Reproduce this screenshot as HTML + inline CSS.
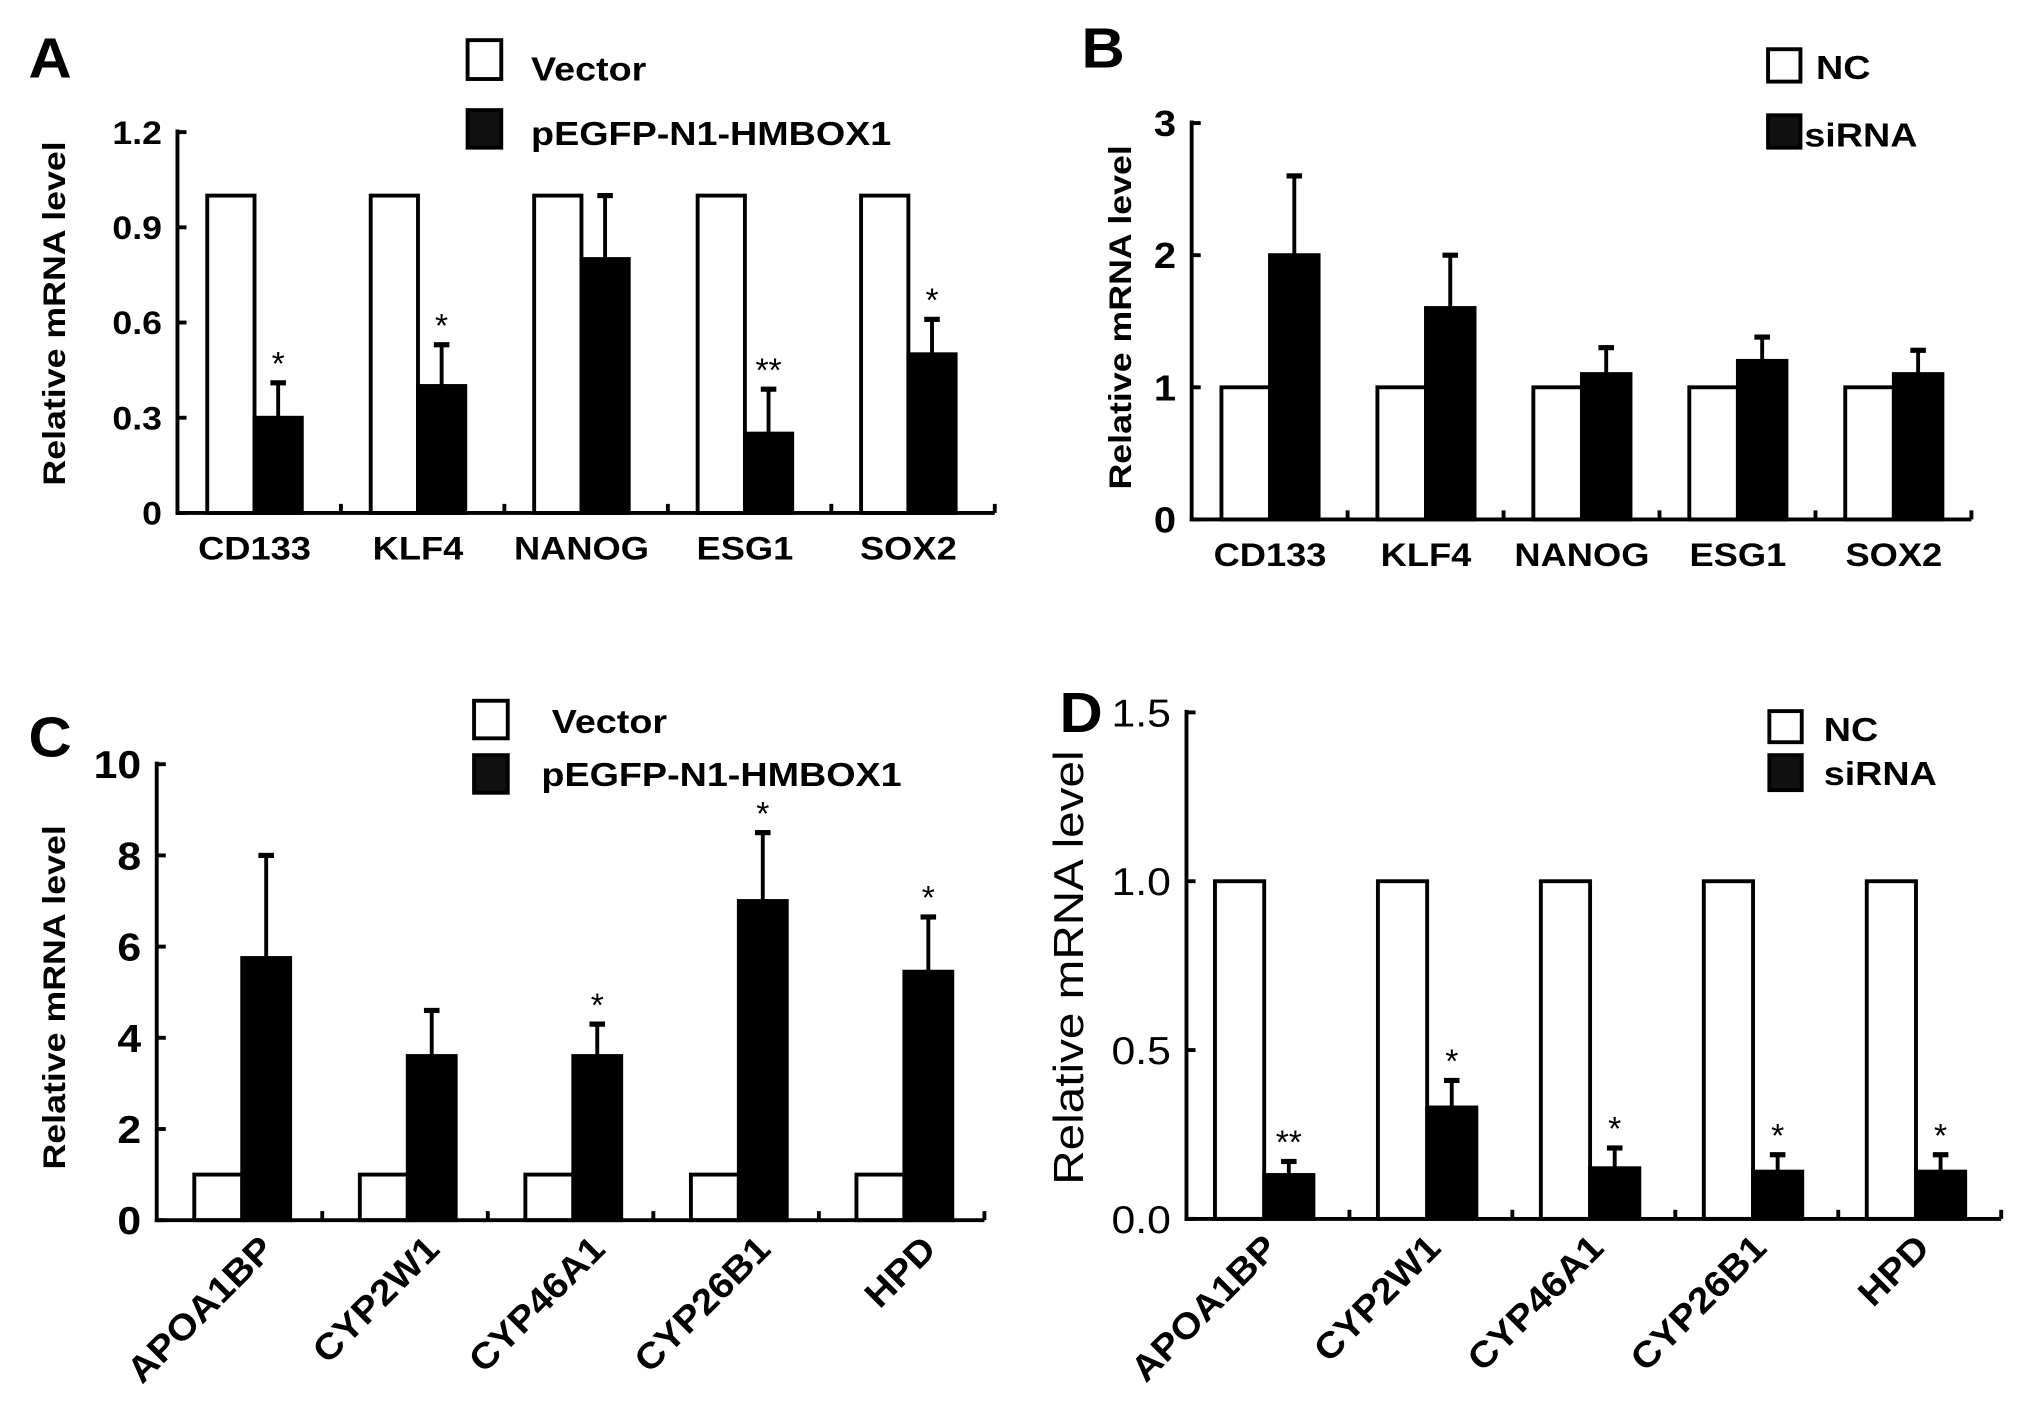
<!DOCTYPE html>
<html><head><meta charset="utf-8"><style>
html,body{margin:0;padding:0;background:#fff;}
svg{display:block;font-family:"Liberation Sans",Arial,sans-serif;}
</style></head><body>
<svg id="fig" width="2031" height="1408" viewBox="0 0 1568 1087" preserveAspectRatio="none" xmlns="http://www.w3.org/2000/svg">
<rect width="1568" height="1087" fill="#fff"/>
<g id="layer"></g>
</svg>
<script>
// Panel A
const catsAB = ["CD133","KLF4","NANOG","ESG1","SOX2"];
const aVector = [1,1,1,1,1];
const aHmbox = [0.30,0.40,0.80,0.25,0.50];
const aErr = [0.41,0.53,1.00,0.39,0.61];
const aStars = ["*","*","","**","*"];
const aTicks = ["0","0.3","0.6","0.9","1.2"];
const aTickVals = [0,0.3,0.6,0.9,1.2];
// Panel B
const bNC = [1,1,1,1,1];
const bSi = [2.0,1.6,1.1,1.2,1.1];
const bErr = [2.6,2.0,1.3,1.38,1.28];
const bTicks = ["0","1","2","3"];
const bTickVals = [0,1,2,3];
// Panel C
const catsCD = ["APOA1BP","CYP2W1","CYP46A1","CYP26B1","HPD"];
const cVector = [1,1,1,1,1];
const cHmbox = [5.75,3.6,3.6,7.0,5.45];
const cErr = [8.0,4.6,4.3,8.5,6.65];
const cStars = ["","","*","*","*"];
const cTicks = ["0","2","4","6","8","10"];
const cTickVals = [0,2,4,6,8,10];
// Panel D
const dNC = [1,1,1,1,1];
const dSi = [0.13,0.33,0.15,0.14,0.14];
const dErr = [0.17,0.41,0.21,0.19,0.19];
const dStars = ["**","*","*","*","*"];
const dTicks = ["0.0","0.5","1.0","1.5"];
const dTickVals = [0,0.5,1.0,1.5];

const NS="http://www.w3.org/2000/svg";
const layer=document.getElementById('layer');
function mk(tag,attrs,parent){const e=document.createElementNS(NS,tag);for(const k in attrs)e.setAttribute(k,attrs[k]);(parent||layer).appendChild(e);return e;}
function txt(s,attrs,parent,stretch){const e=mk('text',attrs,parent);e.textContent=s;
  if(stretch){const L=e.getComputedTextLength();if(L>0){e.setAttribute('textLength',L*stretch);e.setAttribute('lengthAdjust','spacingAndGlyphs');}}
  return e;}

function panel(p){
  const g=mk('g',{});
  
  
  const ymax=p.tickVals[p.tickVals.length-1];
  const ys=v=>p.y0-(v/ymax)*(p.y0-p.ytop);
  const gw=(p.xend-p.x0)/p.cats.length;
  const L=txt(p.letter,{x:p.lx,y:p.ly,'font-size':44,'font-weight':'bold'},g,1.05);
  
  
  p.cats.forEach((c,i)=>{
    const gx=p.x0+i*gw;
    const wx=gx+p.off;
    const w=p.bw;
    const wb=mk('rect',{x:wx,y:ys(p.s1[i]),width:w,height:p.y0-ys(p.s1[i]),fill:'#fff',stroke:'#000','stroke-width':3},g);
    
    
    const bx=wx+w;
    const et=ys(p.err[i]);
    const el=mk('line',{x1:bx+w/2,y1:ys(p.s2[i]),x2:bx+w/2,y2:et,stroke:'#000','stroke-width':3},g);
    
    
    mk('line',{x1:bx+w/2-6,y1:et,x2:bx+w/2+6,y2:et,stroke:'#000','stroke-width':4},g);
    const bb=mk('rect',{x:bx,y:ys(p.s2[i]),width:w,height:p.y0-ys(p.s2[i]),fill:'#000',stroke:'#000','stroke-width':3},g);
    
    
    if(p.stars[i]){
      const st=txt(p.stars[i],{x:bx+w/2,y:et-6,'font-size':26,'text-anchor':'middle'},g);
      
      
    }
    mk('line',{x1:gx+gw,y1:p.y0,x2:gx+gw,y2:p.y0-7,stroke:'#000','stroke-width':3},g);
    let cl;
    if(p.rot){
      const cx=wx+w+p.rotOff, cy=p.y0+24;
      cl=txt(c,{x:cx,y:cy,'font-size':28,'font-weight':'bold','text-anchor':'end',transform:'rotate(-45 '+cx+' '+cy+')'},g,1.08);
    } else {
      cl=txt(c,{x:wx+w,y:p.y0+36,'font-size':p.catSize,'font-weight':'bold','text-anchor':'middle'},g,1.12);
    }
    
    
  });
  const ya=mk('line',{x1:p.x0,y1:p.ytop-2,x2:p.x0,y2:p.y0+1.5,stroke:'#000','stroke-width':3},g);
  
  
  const xa=mk('line',{x1:p.x0-1.5,y1:p.y0,x2:p.xend,y2:p.y0,stroke:'#000','stroke-width':3},g);
  
  
  p.tickVals.forEach((v,i)=>{
    mk('line',{x1:p.x0,y1:ys(v),x2:p.x0+7,y2:ys(v),stroke:'#000','stroke-width':3},g);
    const t=txt(p.ticks[i],{x:p.x0-12,y:ys(v)+p.tickSize*0.36,'font-size':p.tickSize,'font-weight':p.tickWeight,'text-anchor':'end'},g,1.1);
    
    
  });
  const yt=txt('Relative mRNA level',{x:0,y:0,'font-size':p.titleSize,'font-weight':p.titleWeight,'text-anchor':'middle',transform:'translate('+p.tx+' '+p.ty+') rotate(-90)'},g,1.15);
  
  
  p.legend.forEach((l,i)=>{
    const r=mk('rect',{x:l.bx,y:l.by,width:l.bw,height:l.bh,fill:i?'#111':'#fff',stroke:'#000','stroke-width':3},g);
    
    
    const t=txt(l.t,{x:l.tx,y:l.ty,'font-size':p.legSize,'font-weight':'bold'},g,1.12);
    
    
  });
}

panel({name:'panel-a',letter:'A',lx:22,ly:60,cats:catsAB,s1:aVector,s2:aHmbox,err:aErr,stars:aStars,ticks:aTicks,tickVals:aTickVals,
  x0:137,y0:396,ytop:102,xend:768,off:23,bw:36.5,rot:false,catSize:25,tickSize:25,tickWeight:'bold',titleSize:24,titleWeight:'bold',tx:50,ty:242,legSize:26,
  legend:[{bx:361,by:31,bw:26,bh:30,t:'Vector',tx:410,ty:62},{bx:361,by:85,bw:26,bh:29,t:'pEGFP-N1-HMBOX1',tx:410,ty:112}]});
panel({name:'panel-b',letter:'B',lx:835,ly:52,cats:catsAB,s1:bNC,s2:bSi,err:bErr,stars:["","","","",""],ticks:bTicks,tickVals:bTickVals,
  x0:920,y0:401,ytop:95,xend:1522,off:23,bw:37.5,rot:false,catSize:25,tickSize:28,tickWeight:'bold',titleSize:24,titleWeight:'bold',tx:873,ty:245,legSize:26,
  legend:[{bx:1365,by:38,bw:25,bh:25,t:'NC',tx:1402,ty:61},{bx:1365,by:89,bw:25,bh:25,t:'siRNA',tx:1393,ty:113}]});
panel({name:'panel-c',letter:'C',lx:22,ly:584,cats:catsCD,s1:cVector,s2:cHmbox,err:cErr,stars:cStars,ticks:cTicks,tickVals:cTickVals,rotOff:26,
  x0:121,y0:942,ytop:590,xend:760,off:29,bw:37,rot:true,catSize:25,tickSize:30,tickWeight:'bold',titleSize:24,titleWeight:'bold',tx:50,ty:770,legSize:26,
  legend:[{bx:366,by:541,bw:26,bh:29,t:'Vector',tx:426,ty:566},{bx:366,by:583,bw:26,bh:29,t:'pEGFP-N1-HMBOX1',tx:418,ty:607}]});
panel({name:'panel-d',letter:'D',lx:818,ly:565,cats:catsCD,s1:dNC,s2:dSi,err:dErr,stars:dStars,ticks:dTicks,tickVals:dTickVals,rotOff:12,
  x0:916,y0:941,ytop:550,xend:1545,off:22,bw:38,rot:true,catSize:25,tickSize:30,tickWeight:'normal',titleSize:32,titleWeight:'normal',tx:836,ty:747,legSize:26,
  legend:[{bx:1366,by:549,bw:25,bh:24,t:'NC',tx:1408,ty:572},{bx:1366,by:583,bw:25,bh:27,t:'siRNA',tx:1408,ty:606}]});
</script>
</body></html>
